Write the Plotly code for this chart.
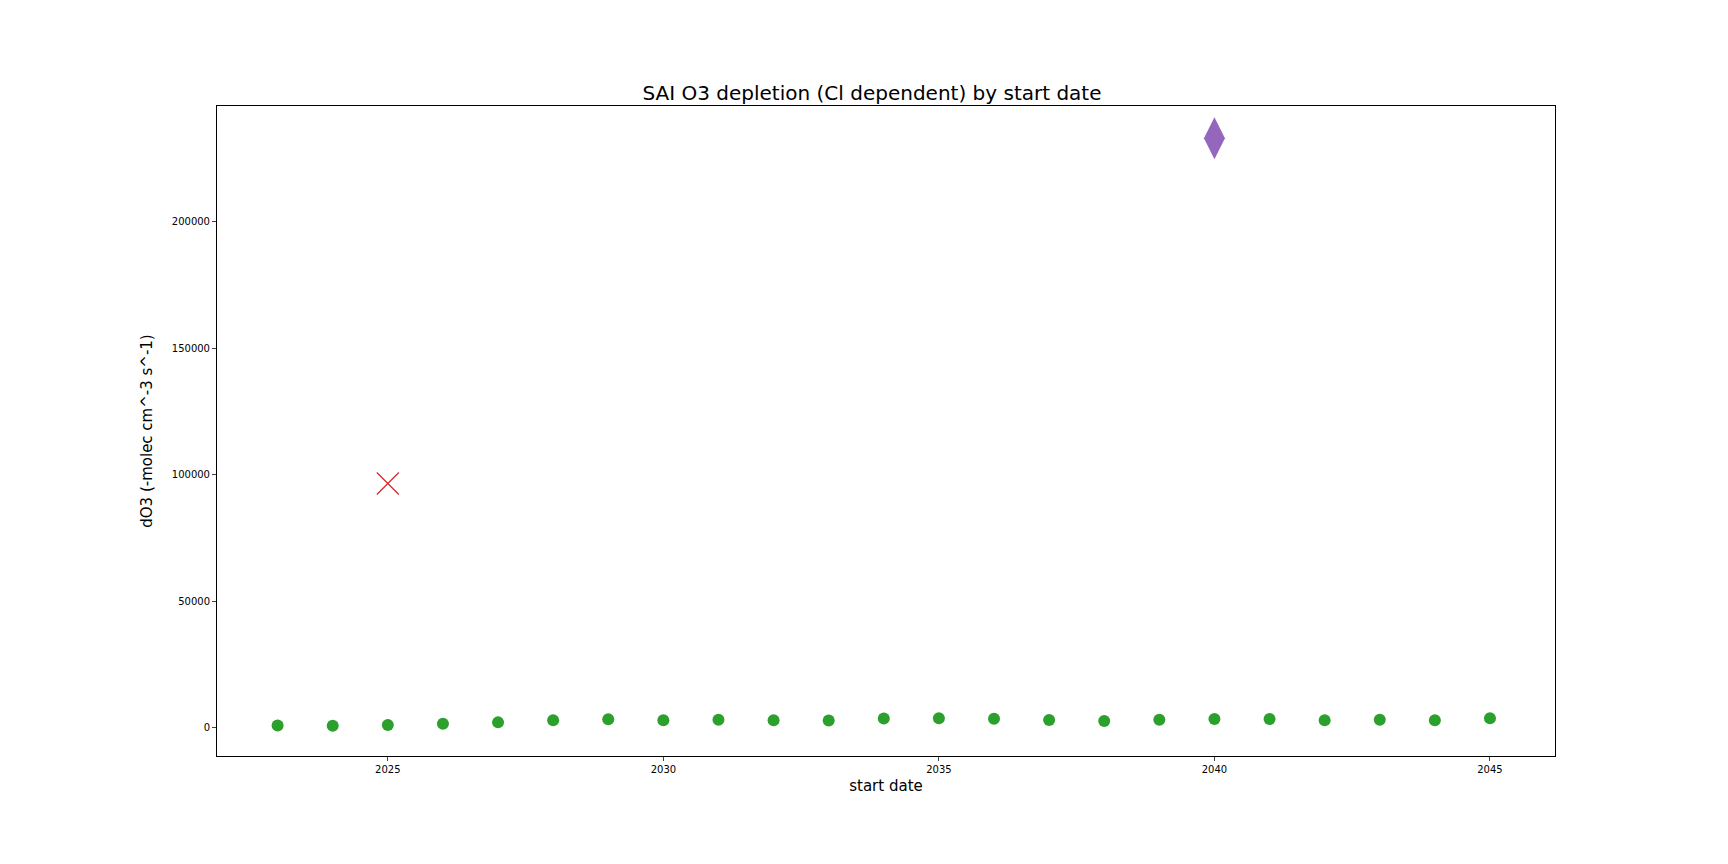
import plotly.graph_objects as go

years = list(range(2023, 2046))
green_vals = [800, 700, 1000, 1500, 2000, 2800, 3200, 2800, 3000, 2800, 2700, 3500,
              3600, 3400, 2900, 2500, 3000, 3300, 3300, 2800, 3000, 2800, 3600]
red_year = [2025]
red_val = [96500]
purple_year = [2040]
purple_val = [233000]

fig = go.Figure()
fig.add_trace(go.Scatter(x=red_year, y=red_val, mode="markers",
                         marker=dict(symbol="x-thin", size=22, line=dict(color="#d62728", width=1.2))))
fig.add_trace(go.Scatter(x=purple_year, y=purple_val, mode="markers",
                         marker=dict(symbol="diamond-tall", size=30, color="#9467bd")))
fig.add_trace(go.Scatter(x=years, y=green_vals, mode="markers",
                         marker=dict(symbol="circle", size=12, color="#2ca02c")))

fig.update_layout(
    width=1728, height=864,
    paper_bgcolor="white", plot_bgcolor="white",
    showlegend=False,
    margin=dict(l=209, r=181, t=98, b=116),
    font=dict(family="DejaVu Sans", color="black"),
    title=dict(text="SAI O3 depletion (Cl dependent) by start date", x=0.5, xanchor="center",
               y=0.893, yanchor="bottom", font=dict(size=20)),
    xaxis=dict(title=dict(text="start date", font=dict(size=15), standoff=6), range=[2021.9, 2046.18],
               tickvals=[2025, 2030, 2035, 2040, 2045], tickfont=dict(size=10),
               showgrid=False, zeroline=False, showline=True, mirror=True,
               linecolor="black", ticks="outside", ticklen=4),
    yaxis=dict(title=dict(text="dO3 (-molec cm^-3 s^-1)", font=dict(size=15)), range=[-11300, 245800],
               tickvals=[0, 50000, 100000, 150000, 200000], tickformat="d", tickfont=dict(size=10),
               showgrid=False, zeroline=False, showline=True, mirror=True,
               linecolor="black", ticks="outside", ticklen=4),
)
fig.write_html("out.html")
